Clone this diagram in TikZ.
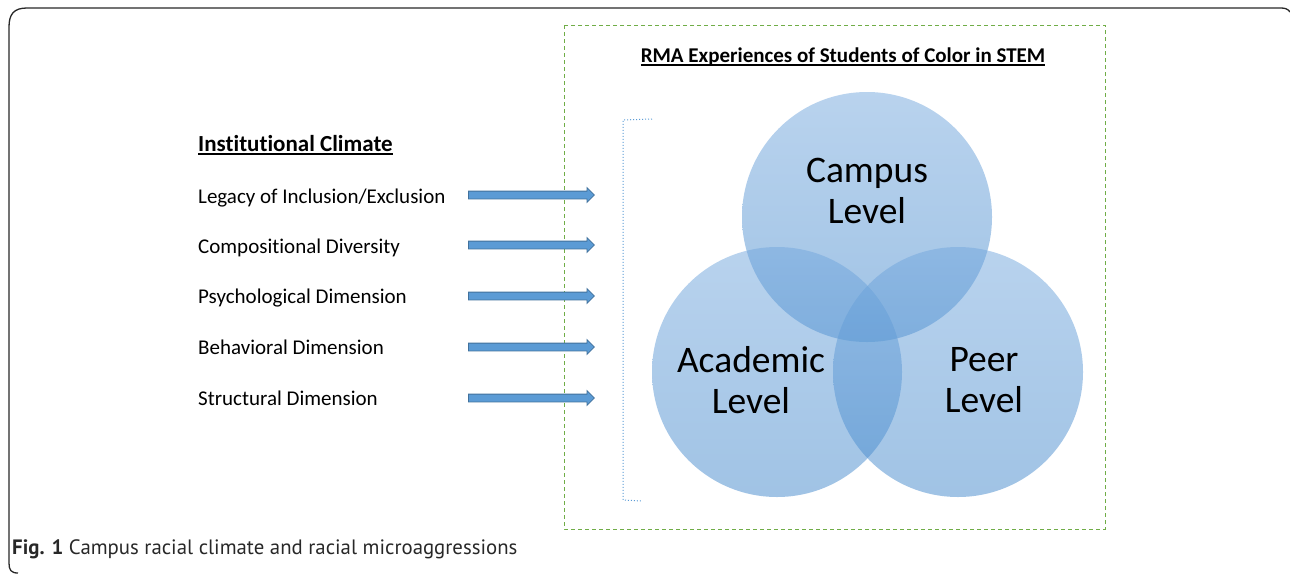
\documentclass[tikz,border=0pt]{standalone}
\usepackage{fontspec}
\setmainfont[Ligatures={NoCommon}]{Carlito}
\newfontfamily\capfont{PT Sans}
\usetikzlibrary{shapes.arrows}
\definecolor{arrowfill}{HTML}{5B9BD5}
\definecolor{arrowline}{HTML}{41719C}
\definecolor{boxgreen}{HTML}{70AD47}
\definecolor{venntop}{RGB}{115,167,221}
\definecolor{vennbot}{RGB}{65,135,203}
\definecolor{framegray}{RGB}{40,40,40}
\newcommand\myul[1]{\setbox0\hbox{#1}\rlap{\rule[-4pt]{\wd0}{1.8pt}}\box0}
\tikzset{
  arr/.style={single arrow, draw=arrowline, fill=arrowfill, line width=0.8pt,
    minimum height=126pt, inner xsep=0pt, inner ysep=3.5pt,
    single arrow head extend=3.5pt, single arrow tip angle=90, anchor=tail},
  item/.style={anchor=base west, inner sep=0pt, font=\fontsize{21}{25}\selectfont},
  head/.style={anchor=base west, inner sep=0pt, font=\bfseries\fontsize{23}{27}\selectfont},
  venn/.style={circle, minimum size=250pt, inner sep=0pt, fill opacity=0.5,
    top color=venntop, bottom color=vennbot, draw=none},
  vlabel/.style={align=center, inner sep=0pt, font=\fontsize{37.5}{41}\selectfont},
}
\begin{document}
\begin{tikzpicture}[x=1pt,y=-1pt]
\useasboundingbox (0,0) rectangle (1290,576);
% outer frame
\draw[framegray, line width=1.3pt] (18,573) .. controls (11,573) and (9,570) .. (9,563)
  -- (9,27) .. controls (9,14) and (14,8) .. (27,8) -- (1281,8)
  .. controls (1285,8) and (1288,9) .. (1290,12);
% green dashed box
\draw[boxgreen, line width=1pt, dash pattern=on 4pt off 3pt] (564,25) rectangle (1105,529);
% title
\node[anchor=base, inner sep=0pt, font=\bfseries\fontsize{21}{25}\selectfont] (title) at (843,62)
  {\myul{RMA Experiences of Students of Color in STEM}};
% bracket
\draw[arrowfill, line width=1pt, dotted] (652,119) -- (623,120) -- (623,500) -- (642,501);
% venn circles
\node[venn] (campus) at (867,217) {};
\node[venn] (academic) at (777,372) {};
\node[venn] (peer) at (958,372) {};
\node[vlabel] (campuslbl) at (867,191) {Campus\\Level};
\node[vlabel] (academiclbl) at (751,380) {Academic\\Level};
\node[vlabel] (peerlbl) at (984,380) {Peer\\Level};
% left column
\node[head] (inst) at (198,151) {\myul{Institutional Climate}};
\node[item] (t1) at (198,203) {Legacy of Inclusion/Exclusion};
\node[item] (t2) at (198,253) {Compositional Diversity};
\node[item] (t3) at (198,303) {Psychological Dimension};
\node[item] (t4) at (198,354) {Behavioral Dimension};
\node[item] (t5) at (198,405) {Structural Dimension};
% arrows
\node[arr] (a1) at (468,195) {};
\node[arr] (a2) at (468,245) {};
\node[arr] (a3) at (468,296) {};
\node[arr] (a4) at (468,347) {};
\node[arr] (a5) at (468,398) {};
% caption
\node[anchor=base west, inner sep=0pt, text=framegray, font=\capfont\fontsize{20.8}{24}\selectfont] (cap) at (12,554)
  {\textbf{Fig. 1} Campus racial climate and racial microaggressions};
\end{tikzpicture}
\end{document}
